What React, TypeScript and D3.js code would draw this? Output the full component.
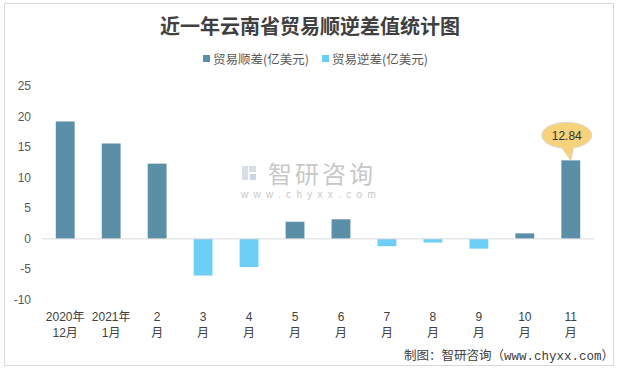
import * as d3 from "d3";

const categories = ["2020年12月", "2021年1月", "2月", "3月", "4月", "5月", "6月", "7月", "8月", "9月", "10月", "11月"];
const labelLine1 = ["2020年", "2021年", "2", "3", "4", "5", "6", "7", "8", "9", "10", "11"];
const labelLine2 = ["12月", "1月", "月", "月", "月", "月", "月", "月", "月", "月", "月", "月"];
const values = [19.2, 15.6, 12.3, -6.0, -4.6, 2.8, 3.2, -1.2, -0.6, -1.6, 0.9, 12.84];
const yTicks = [25, 20, 15, 10, 5, 0, -5, -10];
const seriesNames = ["贸易顺差(亿美元)", "贸易逆差(亿美元)"];
const seriesColors = ["#5B8FA8", "#6DCFF6"];
const calloutIndex = 11;

const W = 617;
const H = 369;
const font = "'Liberation Sans', 'Noto Sans CJK SC', sans-serif";

export default function App() {
  const x = d3
    .scaleBand()
    .domain(categories)
    .range([42, 594])
    .paddingInner(0.59)
    .paddingOuter(0.3);

  const y = d3.scaleLinear().domain([-10, 25]).range([300, 86]);

  const cx = x(categories[calloutIndex])! + x.bandwidth() / 2;
  const cTop = y(values[calloutIndex]);
  const ex = cx - 4;
  const ey = cTop - 25;

  return (
    <svg
      width={W}
      height={H}
      style={{ position: "absolute", left: 0, top: 0, background: "#fff" }}
      fontFamily={font}
    >
      {/* frame */}
      <rect x={4.5} y={3.5} width={609} height={362} fill="#fff" stroke="#D9D9D9" />

      <text
        x={310}
        y={34}
        textAnchor="middle"
        fontSize={20}
        fontWeight={700}
        fill="#404040"
        fontFamily="'Noto Sans CJK SC', sans-serif"
      >
        近一年云南省贸易顺逆差值统计图
      </text>

      {/* legend */}
      <g fontSize={12.5} fill="#595959" fontFamily="'Noto Sans CJK SC', sans-serif">
        {seriesNames.map((name, i) => {
          const lx = i === 0 ? 203 : 322;
          return (
            <g key={name}>
              <rect x={lx} y={55} width={7} height={7} fill={seriesColors[i]} />
              <text x={lx + 10} y={63.5}>
                {name}
              </text>
            </g>
          );
        })}
      </g>

      {/* watermark */}
      <g opacity={0.55}>
        <rect x={242} y={166} width={6} height={14} fill="#B8C4DA" />
        <rect x={249} y={166} width={7} height={6} fill="#B8C4DA" />
        <rect x={250} y={174} width={6} height={6} fill="#9FB3D6" />
        <text
          x={268}
          y={183}
          fontSize={24}
          fill="#9a9a9a"
          fontFamily="'Noto Sans CJK SC', sans-serif"
          letterSpacing={3}
        >
          智研咨询
        </text>
        <text x={241} y={198} fontSize={10} fill="#9a9a9a" letterSpacing={5.3}>
          www.chyxx.com
        </text>
      </g>

      {/* y axis labels */}
      <g fontSize={12} fill="#595959" textAnchor="end">
        {yTicks.map((t) => (
          <text key={t} x={31} y={y(t) + 4}>
            {t}
          </text>
        ))}
      </g>

      {/* bars */}
      {values.map((v, i) => (
        <rect
          key={categories[i]}
          x={x(categories[i])}
          y={v >= 0 ? y(v) : y(0)}
          width={x.bandwidth()}
          height={Math.abs(y(v) - y(0))}
          fill={v >= 0 ? seriesColors[0] : seriesColors[1]}
        />
      ))}

      {/* zero line */}
      <line x1={42} x2={594} y1={y(0)} y2={y(0)} stroke="#D9D9D9" strokeWidth={1} />

      {/* x labels */}
      <g fontSize={12} fill="#404040" textAnchor="middle">
        {categories.map((c, i) => {
          const mx = x(c)! + x.bandwidth() / 2;
          return (
            <g key={c}>
              <text x={mx} y={321}>
                {labelLine1[i]}
              </text>
              <text x={mx} y={337}>
                {labelLine2[i]}
              </text>
            </g>
          );
        })}
      </g>

      {/* callout */}
      <path
        d={`M${ex - 6},${ey + 11} L${cx},${cTop} L${ex + 7},${ey + 11.5}`}
        fill="#F6D37A"
        stroke="#D9D9D9"
      />
      <ellipse cx={ex} cy={ey} rx={25} ry={13} fill="#F6D37A" stroke="#D9D9D9" />
      <path d={`M${ex - 5.5},${ey + 11} L${cx},${cTop} L${ex + 6.5},${ey + 11}Z`} fill="#F6D37A" />
      <text x={ex} y={ey + 4.5} textAnchor="middle" fontSize={12} fill="#333">
        {values[calloutIndex]}
      </text>

      {/* source */}
      <text
        x={614}
        y={360}
        textAnchor="end"
        fontSize={12.5}
        fill="#404040"
        fontFamily="'Liberation Mono', 'Noto Sans CJK SC', monospace"
      >
        制图：智研咨询（www.chyxx.com）
      </text>
    </svg>
  );
}
